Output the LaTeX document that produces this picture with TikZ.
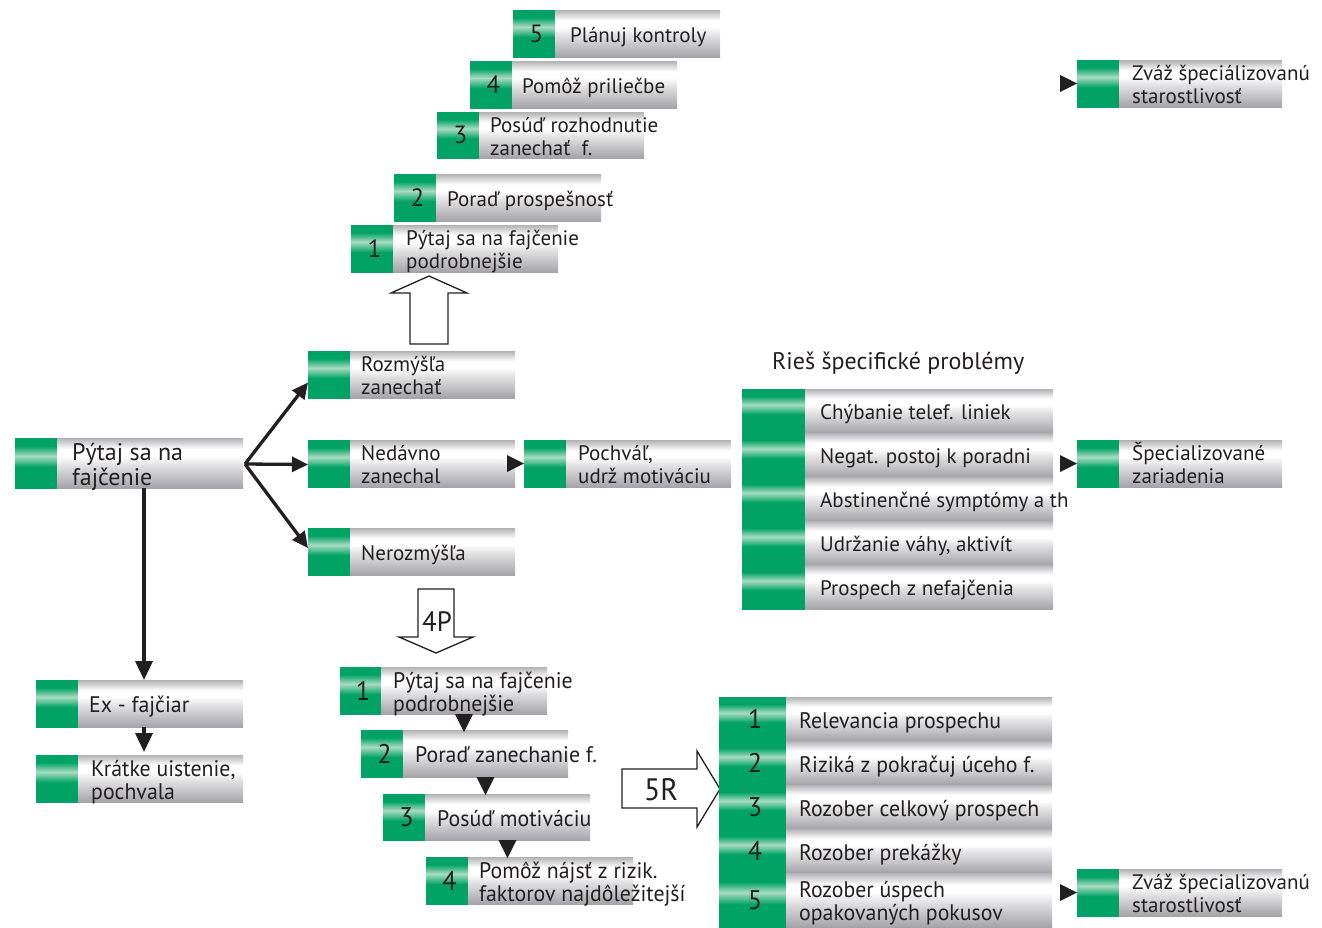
\documentclass[tikz,border=0pt]{standalone}
\usepackage{fontspec}
\setmainfont{PT Sans}
\newfontfamily\cond[FakeStretch=0.97]{PT Sans}
\newfontfamily\condb[FakeStretch=0.96]{PT Sans}
\usetikzlibrary{arrows.meta,calc}
\definecolor{gr}{RGB}{0,163,101}
\definecolor{grl}{RGB}{168,220,192}
\definecolor{gb}{RGB}{164,164,168}
\definecolor{gm}{RGB}{226,226,228}
\definecolor{gt}{RGB}{178,178,182}
\definecolor{tc}{RGB}{35,31,32}
\pgfdeclareverticalshading{gshade}{100bp}{color(0bp)=(gr); color(25bp)=(gr); color(46bp)=(gr); color(57bp)=(grl); color(67bp)=(gr); color(75bp)=(gr); color(100bp)=(gr)}
\pgfdeclareverticalshading{wshade}{100bp}{color(0bp)=(gb); color(25bp)=(gb); color(48bp)=(gm); color(57bp)=(white); color(64bp)=(white); color(75bp)=(gt); color(100bp)=(gt)}
\newcommand\Ln[1]{\rule{0pt}{\fontcharht\font`H}\smash{#1}}
\newcommand\fN{\fontsize{21}{23}\selectfont}
\newcommand\fM{\fontsize{24}{24.5}\selectfont}
\newcommand\fC{\cond\fontsize{22.5}{23}\selectfont}
\newcommand\fT{\fontsize{24}{26}\selectfont}
\newcommand\cnum{\cond\fontsize{27}{27}\selectfont}
\tikzset{
  gpart/.style={shade, shading=gshade, inner sep=0pt, outer sep=0pt, text=tc, font=\fontsize{25}{25}\selectfont},
  wpart/.style={shade, shading=wshade, inner sep=0pt, outer sep=0pt},
  tx/.style={anchor=west, inner sep=0pt, align=left, text=tc, font=\fN, yshift=-1.5pt},
  cx/.style={font=\fC},
  arr/.style={draw=tc, line width=3.3pt, -{Triangle[length=16pt,width=15pt]}},
  varr/.style={draw=tc, line width=3.3pt, -{Triangle[length=19pt,width=17pt]}},
  hollow/.style={draw=tc, line width=1.3pt, fill=white, line join=miter},
  tri/.style={fill=tc},
}
\newcommand\boxg[9]{%
  \node[gpart, minimum width={(#3-#2)*1pt}, minimum height={(#6-#5)*1pt}] (#1-g) at ({(#2+#3)/2},{(#5+#6)/2}) {\hspace*{5pt}#7};
  \node[wpart, minimum width={(#4-#3)*1pt}, minimum height={(#6-#5)*1pt}] (#1) at ({(#3+#4)/2},{(#5+#6)/2}) {};
  \node[tx, #8] (#1-t) at (#1.west) {#9};
}
\newcommand\rtri[1]{\fill[tri] ([xshift=-17pt,yshift=8.5pt]#1.west) -- (#1.west) -- ([xshift=-17pt,yshift=-8.5pt]#1.west) -- cycle;}
\newcommand\dtri[1]{\fill[tri] ([xshift=-9pt]#1.south) -- ([xshift=9pt]#1.south) -- ([yshift=-18pt]#1.south) -- cycle;}
\begin{document}
\begin{tikzpicture}[x=1pt,y=-1pt]
\useasboundingbox (0,0) rectangle (1322,927);

% top stair
\boxg{s5}{513}{555}{720}{10}{57}{5}{xshift=15pt}{\Ln{Plánuj kontroly}}
\boxg{s4}{470}{512}{677}{61}{108}{4}{xshift=10pt}{\Ln{Pomôž priliečbe}}
\boxg{s3}{437}{479}{644}{112}{158}{3}{xshift=11pt}{\Ln{Posúď rozhodnutie}\\\Ln{zanechať\ \ f.}}
\boxg{s2}{394}{436}{601}{174}{221}{2}{xshift=11pt}{\Ln{Poraď prospešnosť}}
\boxg{s1}{351}{393}{558}{225}{272}{1}{xshift=13pt}{\Ln{Pýtaj sa na fajčenie}\\\Ln{podrobnejšie}}

\draw[hollow] (410,344) -- (410,293) -- (391,293) -- (429,276) -- (467,293) -- (448,293) -- (448,344) -- cycle;

% middle
\boxg{main}{15}{57}{243}{438}{488}{}{xshift=15pt, font=\fM}{\Ln{Pýtaj sa na}\\\Ln{fajčenie}}
\boxg{roz}{308}{350}{515}{351}{398}{}{xshift=11pt}{\Ln{Rozmýšľa}\\\Ln{zanechať}}
\boxg{ned}{308}{350}{515}{440}{487}{}{xshift=11pt}{\Ln{Nedávno}\\\Ln{zanechal}}
\boxg{ner}{308}{350}{515}{528}{575}{}{xshift=11pt}{\Ln{Nerozmýšľa}}
\boxg{poc}{524}{566}{731}{440}{487}{}{xshift=12pt}{\Ln{Pochváľ,}\\\Ln{udrž motiváciu}}
\rtri{poc-g}

\coordinate (fan) at ([xshift=2pt,yshift=-1pt]main.east);
\draw[arr] (fan) -- ([yshift=-8pt]roz-g.west);
\draw[arr] (fan) -- ([yshift=-1pt]ned-g.west);
\draw[arr] (fan) -- ([yshift=3.5pt]ner-g.west);

% left column
\boxg{exf}{36}{78}{243}{680}{727}{}{cx, xshift=11pt}{\Ln{Ex - fajčiar}}
\boxg{kra}{36}{78}{243}{755}{802}{}{cx, xshift=13pt}{\Ln{Krátke uistenie,}\\\Ln{pochvala}}
\draw[varr] ([xshift=-6pt]main.south) -- ([xshift=-6pt]main.south |- exf.north);
\draw[varr] ([xshift=-16.5pt]exf.south) -- ([xshift=-16.5pt,yshift=3pt]kra.north);

% specific problems
\node[tx, font=\fT] (title) at (772,360) {\Ln{Rieš špecifické problémy}};
\boxg{r1}{742}{805}{1053}{389}{433}{}{xshift=15pt}{\Ln{Chýbanie telef. liniek}}
\boxg{r2}{742}{805}{1053}{433}{477}{}{xshift=15pt}{\Ln{Negat. postoj k poradni}}
\boxg{r3}{742}{805}{1053}{477}{521}{}{xshift=15pt}{\Ln{Abstinenčné symptómy a th}}
\boxg{r4}{742}{805}{1053}{521}{565}{}{xshift=15pt}{\Ln{Udržanie váhy, aktivít}}
\boxg{r5}{742}{805}{1053}{565}{609}{}{xshift=15pt}{\Ln{Prospech z nefajčenia}}
\boxg{spec}{1077}{1119}{1282}{440}{487}{}{xshift=13pt}{\Ln{Špecializované}\\\Ln{zariadenia}}
\rtri{spec-g}
\boxg{zv1}{1077}{1119}{1282}{60}{107}{}{xshift=13pt}{\Ln{Zváž špeciálizovanú}\\\Ln{starostlivosť}}
\rtri{zv1-g}

% 4P
\draw[hollow] (418,589) -- (454,589) -- (454,637) -- (473,637) -- (436,653) -- (399,637) -- (418,637) -- cycle;
\node[text=tc, font=\condb\fontsize{28}{28}\selectfont, inner sep=0pt] (l4p) at (437,622) {4P};
\boxg{p1}{340}{381}{547}{667}{714}{{\cnum 1}}{cx, xshift=12pt}{\Ln{Pýtaj sa na fajčenie}\\\Ln{podrobnejšie}}
\boxg{p2}{361}{403}{568}{730}{777}{{\cnum 2}}{cx, xshift=12pt}{\Ln{Poraď zanechanie f.}}
\boxg{p3}{383}{425}{590}{794}{840}{{\cnum 3}}{cx, xshift=12pt}{\Ln{Posúď motiváciu}}
\boxg{p4}{426}{468}{633}{857}{904}{{\cnum 4}}{cx, xshift=11pt}{\Ln{Pomôž nájsť z rizik.}\\\Ln{faktorov najdôležitejší}}
\dtri{p1}
\dtri{p2}
\dtri{p3}

% 5R
\draw[hollow] (622,769) -- (697,769) -- (697,751) -- (720,789) -- (697,827) -- (697,808) -- (622,808) -- cycle;
\node[text=tc, font=\condb\fontsize{31}{31}\selectfont, inner sep=0pt] (l5r) at (661,790) {5R};
\boxg{q1}{719}{786}{1052}{697}{741}{{\cnum 1}}{cx, xshift=13pt}{\Ln{Relevancia prospechu}}
\boxg{q2}{719}{786}{1052}{741}{785}{{\cnum 2}}{cx, xshift=13pt}{\Ln{Riziká z pokračuj úceho f.}}
\boxg{q3}{719}{786}{1052}{785}{829}{{\cnum 3}}{cx, xshift=13pt}{\Ln{Rozober celkový prospech}}
\boxg{q4}{719}{786}{1052}{829}{873}{{\cnum 4}}{cx, xshift=13pt}{\Ln{Rozober prekážky}}
\boxg{q5}{719}{786}{1052}{873}{927}{{\cnum 5}}{cx, xshift=13pt}{\Ln{Rozober úspech}\\\Ln{opakovaných pokusov}}
\boxg{zv2}{1077}{1119}{1282}{869}{916}{}{xshift=13pt}{\Ln{Zváž špecializovanú}\\\Ln{starostlivosť}}
\rtri{zv2-g}
\end{tikzpicture}
\end{document}
